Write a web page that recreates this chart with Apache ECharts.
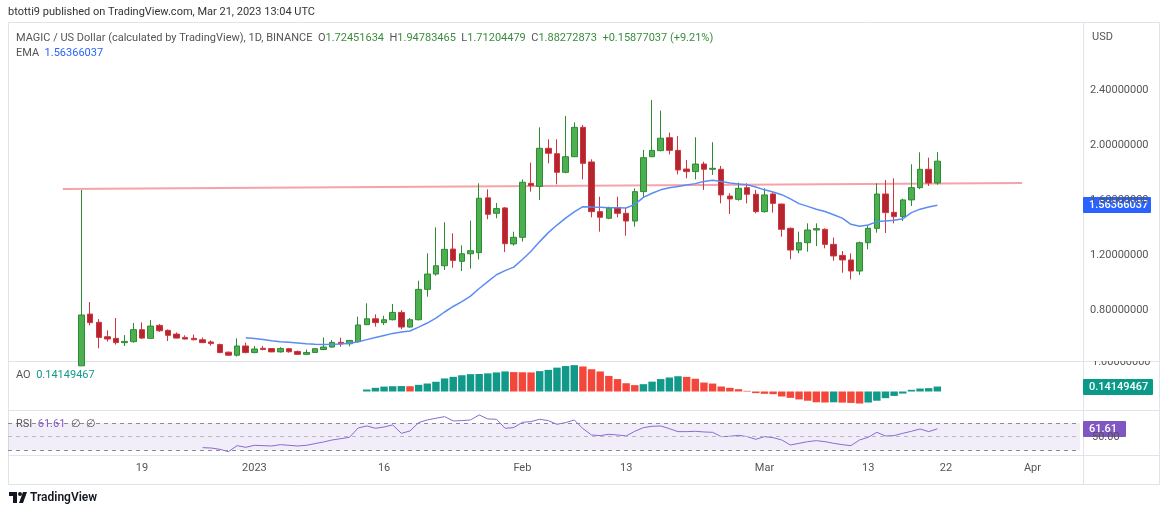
<!DOCTYPE html>
<html>
<head>
<meta charset="utf-8">
<script src="https://cdn.jsdelivr.net/npm/echarts@6/dist/echarts.min.js"></script>
<style>
  html, body { margin: 0; padding: 0; background: #fff; }
  #chart { width: 1170px; height: 515px; }
</style>
</head>
<body>
<div id="chart"></div>
<script>
// daily candles, day 0 = 2022-12-12, day 99 = 2023-03-21
const firstDay = -8;
const lastDay = 115;
const opens = [0.40,0.775,0.715,0.611,0.599,0.568,0.575,0.662,0.599,0.693,0.657,0.630,0.606,0.599,0.589,0.573,0.554,0.499,0.477,0.544,
  0.496,0.527,0.525,0.501,0.524,0.504,0.483,0.497,0.518,0.536,0.570,0.560,0.575,0.698,0.741,0.713,0.734,0.787,0.681,0.734,
  0.954,1.065,1.125,1.246,1.157,1.212,1.220,1.617,1.505,1.544,1.283,1.331,1.722,1.700,1.976,1.937,1.802,1.915,2.128,1.877,
  1.517,1.469,1.546,1.505,1.449,1.662,1.915,1.959,2.053,1.961,1.826,1.807,1.862,1.824,1.824,1.630,1.606,1.691,1.643,1.517,
  1.645,1.572,1.396,1.239,1.292,1.384,1.389,1.280,1.200,1.167,1.087,1.292,1.396,1.645,1.512,1.481,1.602,1.691,1.824,1.72451634];
const highs = [1.674,0.862,0.739,0.657,0.746,0.623,0.710,0.715,0.732,0.703,0.664,0.642,0.621,0.626,0.606,0.585,0.561,0.503,0.599,0.568,
  0.544,0.544,0.527,0.535,0.530,0.511,0.518,0.526,0.606,0.587,0.604,0.587,0.756,0.853,0.773,0.763,0.848,0.804,0.746,1.017,
  1.215,1.403,1.440,1.360,1.273,1.452,1.722,1.679,1.580,1.550,1.372,1.751,1.872,2.128,2.041,2.041,2.210,2.164,2.145,1.896,
  1.625,1.553,1.625,1.541,1.686,1.964,2.326,2.249,2.089,2.065,1.891,2.056,1.879,2.020,1.848,1.650,1.727,1.722,1.674,1.686,
  1.655,1.575,1.403,1.372,1.432,1.432,1.396,1.329,1.232,1.215,1.300,1.420,1.722,1.746,1.758,1.611,1.860,1.947,1.908,1.94783465];
const lows = [0.40,0.693,0.527,0.575,0.554,0.544,0.568,0.594,0.596,0.645,0.580,0.599,0.592,0.585,0.566,0.546,0.491,0.472,0.467,0.491,
  0.491,0.513,0.499,0.496,0.495,0.481,0.478,0.495,0.514,0.531,0.538,0.541,0.570,0.696,0.684,0.696,0.729,0.666,0.676,0.729,
  0.901,1.053,1.094,1.111,1.087,1.104,1.171,1.462,1.469,1.224,1.270,1.300,1.662,1.601,1.867,1.715,1.795,1.912,1.751,1.476,
  1.372,1.462,1.476,1.343,1.408,1.620,1.912,1.954,1.932,1.787,1.759,1.751,1.674,1.783,1.577,1.500,1.597,1.577,1.505,1.510,
  1.510,1.336,1.172,1.215,1.227,1.268,1.251,1.162,1.075,1.026,1.058,1.244,1.365,1.362,1.432,1.449,1.558,1.680,1.703,1.71204479];
const closes = [0.768,0.713,0.606,0.594,0.568,0.577,0.662,0.601,0.688,0.654,0.621,0.601,0.594,0.589,0.568,0.561,0.496,0.477,0.544,0.496,
  0.522,0.518,0.501,0.525,0.502,0.483,0.497,0.524,0.536,0.570,0.560,0.584,0.696,0.741,0.713,0.734,0.787,0.681,0.734,0.954,
  1.065,1.125,1.244,1.164,1.212,1.234,1.614,1.498,1.539,1.285,1.331,1.730,1.705,1.976,1.940,1.802,1.915,2.128,1.867,1.517,
  1.476,1.541,1.505,1.449,1.662,1.908,1.961,2.049,1.961,1.819,1.807,1.862,1.824,1.831,1.638,1.609,1.686,1.643,1.517,1.638,
  1.577,1.389,1.239,1.292,1.384,1.394,1.280,1.196,1.167,1.087,1.292,1.396,1.645,1.510,1.481,1.602,1.691,1.824,1.724,1.88272873];

const emaStart = 19;
const emaValues = [0.604,0.598,0.590,0.582,0.575,0.570,0.565,0.560,0.556,0.555,
  0.556,0.558,0.563,0.575,0.590,0.605,0.620,0.635,0.645,0.652,
  0.680,0.710,0.745,0.790,0.830,0.865,0.905,0.960,1.010,1.060,
  1.090,1.115,1.170,1.230,1.300,1.365,1.420,1.470,1.515,1.553,
  1.550,1.548,1.546,1.545,1.543,1.570,1.620,1.650,1.675,1.690,
  1.700,1.710,1.720,1.735,1.745,1.735,1.725,1.718,1.712,1.695,
  1.675,1.660,1.640,1.610,1.575,1.555,1.535,1.518,1.495,1.470,
  1.425,1.412,1.420,1.445,1.450,1.455,1.465,1.510,1.535,1.550,1.56366037];

const aoStart = 33;
const aoValues = [0.057,0.105,0.140,0.150,0.155,0.151,0.190,0.228,0.278,0.373,
  0.419,0.464,0.495,0.500,0.518,0.545,0.573,0.555,0.550,0.545,
  0.582,0.618,0.682,0.727,0.753,0.715,0.636,0.573,0.445,0.355,
  0.236,0.182,0.209,0.282,0.355,0.400,0.436,0.418,0.364,0.255,
  0.227,0.143,0.105,0.066,0.018,-0.047,-0.066,-0.076,-0.143,-0.182,
  -0.227,-0.264,-0.309,-0.315,-0.309,-0.318,-0.327,-0.344,-0.315,-0.264,
  -0.191,-0.127,-0.059,0.047,0.085,0.095,0.14149467];

const rsiStart = 14;
const rsiValues = [33.5,33,31,27.5,36.5,34,37,36.5,36,38,37,36,37,39.5,42,45,47,49,
  63,66,62.5,64.5,67.5,55,58.5,71,75,77.5,80,73.5,74,75,82.5,76.5,76,62.5,63.5,71.5,72.5,76,74,
  68.5,71,75,62,52.5,51.5,53.5,52.5,51,58,63.5,65.5,66,62,57.5,57.5,58,57,56.5,50,50.5,52,50,46,
  50,48.5,45,37.5,40,42.5,44,42.5,40,38,36.5,45,49,56.5,51,51.5,55,58,61.5,57.5,61.61];
const rsiLevels = [70, 50, 30];

// horizontal trend line, [day, price]
const trendLine = [[-2.16, 1.681], [108.8, 1.725]];

const priceTicks = [0.8, 1.2, 1.6, 2.0, 2.4];
const tickDays = [7, 20, 35, 51, 63, 79, 91, 100, 110];
const tickText = ['19', '2023', '16', 'Feb', '13', 'Mar', '13', '22', 'Apr'];

const days = [];
for (let d = firstDay; d <= lastDay; d++) days.push(String(d));
const pos = (d) => d - firstDay;

const candleData = days.map(() => '-');
opens.forEach((o, i) => { candleData[pos(i)] = [o, closes[i], lows[i], highs[i]]; });

const emaData = days.map(() => null);
emaValues.forEach((v, i) => { emaData[pos(emaStart + i)] = v; });

const aoData = days.map(() => null);
aoValues.forEach((v, i) => {
  const up = i === 0 || v >= aoValues[i - 1];
  aoData[pos(aoStart + i)] = { value: v, itemStyle: { color: up ? '#11998a' : '#f4473c' } };
});

const rsiData = days.map(() => null);
rsiValues.forEach((v, i) => { rsiData[pos(rsiStart + i)] = v; });

const chart = echarts.init(document.getElementById('chart'), null, { renderer: 'canvas' });
const FONT = 'Roboto, "Open Sans", sans-serif';
const gray = '#555';

const grids = [
  { left: 8, width: 1072, top: 22, height: 339 },
  { left: 8, width: 1072, top: 362, height: 48 },
  { left: 8, width: 1072, top: 411, height: 44 },
];

const hiddenCat = (gi) => ({
  type: 'category', gridIndex: gi, data: days, boundaryGap: true,
  axisLine: { show: false }, axisTick: { show: false }, axisLabel: { show: false }, splitLine: { show: false },
});

chart.setOption({
  animation: false,
  backgroundColor: '#fff',
  textStyle: { fontFamily: FONT },
  grid: grids,
  xAxis: [
    hiddenCat(0),
    hiddenCat(1),
    {
      type: 'category', gridIndex: 2, data: days, boundaryGap: true,
      axisLine: { show: false }, axisTick: { show: false }, splitLine: { show: false },
      axisLabel: {
        interval: (idx) => tickDays.includes(idx + firstDay),
        formatter: (v) => tickText[tickDays.indexOf(Number(v))],
        color: gray, fontSize: 11, margin: 8, fontFamily: FONT,
      },
    },
    { type: 'value', gridIndex: 0, min: firstDay - 0.5, max: lastDay + 0.5, show: false },
  ],
  yAxis: [
    {
      type: 'value', gridIndex: 0, position: 'right', min: 0.435, max: 2.891, scale: true,
      axisLine: { show: false }, axisTick: { show: false }, splitLine: { show: false },
      axisLabel: {
        customValues: priceTicks, formatter: (v) => v.toFixed(8),
        color: gray, fontSize: 11, margin: 10, fontFamily: FONT,
      },
    },
    { type: 'value', gridIndex: 1, min: -0.529, max: 0.843, show: false },
    { type: 'value', gridIndex: 2, min: 22.5, max: 88.4, show: false },
  ],
  series: [
    {
      type: 'line', xAxisIndex: 3, yAxisIndex: 0, data: trendLine, showSymbol: false,
      lineStyle: { color: '#f5a3a9', width: 2 }, z: 1,
    },
    {
      type: 'candlestick', xAxisIndex: 0, yAxisIndex: 0, data: candleData, barWidth: 6, clip: true,
      itemStyle: { color: '#4caf50', borderColor: '#2f8a34', color0: '#b3262f', borderColor0: '#d0353e', borderWidth: 1 },
      z: 3,
    },
    {
      type: 'line', xAxisIndex: 0, yAxisIndex: 0, data: emaData, showSymbol: false,
      lineStyle: { color: '#5b8cf2', width: 1.5 }, z: 4,
    },
    {
      type: 'bar', xAxisIndex: 1, yAxisIndex: 1, data: aoData, barCategoryGap: '14%',
    },
    {
      type: 'line', xAxisIndex: 2, yAxisIndex: 2, data: rsiData, showSymbol: false,
      lineStyle: { color: '#8a6bd1', width: 1 },
      markArea: {
        silent: true, itemStyle: { color: 'rgba(126,87,194,0.1)' },
        data: [[{ yAxis: rsiLevels[0] }, { yAxis: rsiLevels[2] }]],
      },
      markLine: {
        silent: true, symbol: 'none', label: { show: false },
        data: rsiLevels.map((l) => ({
          yAxis: l,
          lineStyle: { color: l === 50 ? '#b8b9c0' : '#8a8b93', type: [4, 4], width: 1 },
        })),
      },
    },
  ],
});

// overlays: frame, legends and last-value labels
const yPx = (axis, v) => chart.convertToPixel({ yAxisIndex: axis }, v);
const border = '#e0e3eb';
const hline = (y) => ({ type: 'line', shape: { x1: 8, y1: y, x2: 1160, y2: y }, style: { stroke: border, lineWidth: 1 } });
const valueBox = (y, w, fill, text) => ({
  type: 'group', z: 20, children: [
    { type: 'rect', shape: { x: 1083, y: Math.round(y) - 8, width: w, height: 16, r: 1 }, style: { fill } },
    { type: 'text', style: { x: 1089, y: Math.round(y), text, fill: '#fff', font: `500 11px ${FONT}`, verticalAlign: 'middle' } },
  ],
});
const txt = (x, y, text, rich, z) => ({ type: 'text', z: z || 10, style: { x, y, text, rich, font: `11px ${FONT}`, fill: gray, verticalAlign: 'middle' } });

// zrender rich tokens take fill, not color
const rich = {
  g: { fill: gray, fontSize: 11, fontFamily: FONT },
  v: { fill: '#3b8c3f', fontSize: 11, fontFamily: FONT },
  b: { fill: '#2962ff', fontSize: 11, fontFamily: FONT },
  t: { fill: '#12998a', fontSize: 11, fontFamily: FONT },
  p: { fill: '#7e57c2', fontSize: 11, fontFamily: FONT },
};

const emaY = yPx(0, emaValues[emaValues.length - 1]);
const aoY = yPx(1, aoValues[aoValues.length - 1]);
const rsiY = yPx(2, rsiValues[rsiValues.length - 1]);

chart.setOption({
  graphic: [
    { type: 'text', style: { x: 8, y: 12, text: 'btotti9 published on TradingView.com, Mar 21, 2023 13:04 UTC', font: `11px ${FONT}`, fill: '#333', verticalAlign: 'middle' } },
    { type: 'rect', z: 0, shape: { x: 8.5, y: 22.5, width: 1151, height: 462 }, style: { fill: 'none', stroke: border, lineWidth: 1 } },
    hline(361.5), hline(410.5), hline(455.5),
    { type: 'line', shape: { x1: 1083.5, y1: 22, x2: 1083.5, y2: 485 }, style: { stroke: border, lineWidth: 1 } },
    txt(16, 38, '{g|MAGIC / US Dollar (calculated by TradingView), 1D, BINANCE}  {g|O}{v|1.72451634}  {g|H}{v|1.94783465}  {g|L}{v|1.71204479}  {g|C}{v|1.88272873}  {v|+0.15877037 (+9.21%)}', rich),
    txt(16, 53, '{g|EMA}  {b|1.56366037}', rich),
    txt(16, 375, '{g|AO}  {t|0.14149467}', rich),
    txt(16, 424, '{g|RSI}  {p|61.61}  {g|\u2205  \u2205}', rich),
    txt(1092, 37, 'USD'),
    // upper AO scale label, partly hidden under the price pane
    txt(1092, 362, '1.00000000', null, 5),
    { type: 'rect', z: 6, shape: { x: 1084, y: 340, width: 75, height: 21 }, style: { fill: '#fff' } },
    txt(1092, yPx(2, 50) + 1, '50.00', null, 5),
    valueBox(emaY, 68, '#2962ff', '1.56366037'),
    valueBox(aoY, 70, '#0c9a88', '0.14149467'),
    valueBox(rsiY, 43, '#7e57c2', '61.61'),
    // footer logo
    { type: 'group', children: [
      { type: 'rect', shape: { x: 9, y: 492, width: 8, height: 4 }, style: { fill: '#131722' } },
      { type: 'rect', shape: { x: 13, y: 492, width: 4, height: 11 }, style: { fill: '#131722' } },
      { type: 'circle', shape: { cx: 20, cy: 494, r: 2 }, style: { fill: '#131722' } },
      { type: 'polygon', shape: { points: [[23, 492], [27, 492], [23, 503], [19, 503]] }, style: { fill: '#131722' } },
    ] },
    { type: 'text', style: { x: 30, y: 498, text: 'TradingView', font: `600 12px ${FONT}`, fill: '#131722', verticalAlign: 'middle' } },
  ],
});
</script>
</body>
</html>
